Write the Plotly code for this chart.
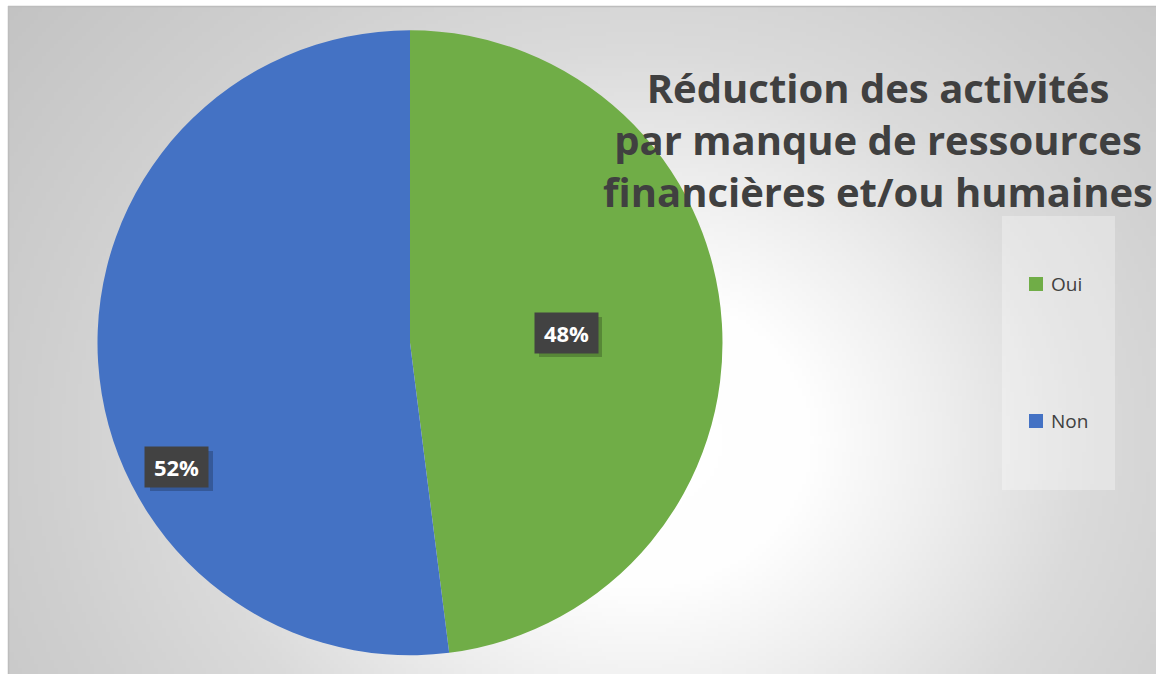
import base64
import math
import struct
import zlib

import plotly.graph_objects as go

# ---------------- data ----------------
LABELS = ["Oui", "Non"]
VALUES = [48, 52]
COLORS = ["#70AD47", "#4472C4"]
TITLE_LINES = ["Réduction des activités", "par manque de ressources", "financières et/ou humaines"]

W, H = 1156, 674
# chart-area box (page pixels)
X0, Y0, X1, Y1 = 8, 6, W, H

# ---------------- background gradient (style only) ----------------
def make_png(w, h, pix):
    raw = b"".join(b"\x00" + bytes(row) for row in pix)
    def chunk(t, d):
        return struct.pack(">I", len(d)) + t + d + struct.pack(">I", zlib.crc32(t + d) & 0xFFFFFFFF)
    return (b"\x89PNG\r\n\x1a\n" + chunk(b"IHDR", struct.pack(">IIBBBBB", w, h, 8, 0, 0, 0, 0))
            + chunk(b"IDAT", zlib.compress(raw, 9)) + chunk(b"IEND", b""))

stops = [(0, 255), (170, 254), (300, 238), (450, 218), (600, 207), (820, 194)]
def shade(d):
    for (d0, v0), (d1, v1) in zip(stops, stops[1:]):
        if d <= d1:
            return int(round(v0 + (v1 - v0) * (d - d0) / (d1 - d0)))
    return stops[-1][1]

GW, GH = 287, 167
cx, cy = 640, 440
pix = []
for j in range(GH):
    py = Y0 + (j + 0.5) * (Y1 - Y0) / GH
    row = []
    for i in range(GW):
        px = X0 + (i + 0.5) * (X1 - X0) / GW
        d = math.hypot(px - cx, (py - cy) * 1.15)
        row.append(shade(d))
    pix.append(row)
bg_uri = "data:image/png;base64," + base64.b64encode(make_png(GW, GH, pix)).decode()

def fx(px):
    return px / W

def fy(py):
    return 1 - py / H

# ---------------- figure ----------------
fig = go.Figure()
fig.add_trace(go.Pie(
    labels=LABELS, values=VALUES, sort=False, direction="clockwise", rotation=0,
    marker=dict(colors=COLORS, line=dict(width=0)),
    textinfo="none", showlegend=False,
    domain=dict(x=[fx(97.5), fx(722.5)], y=[fy(655.5), fy(30)]),
))

shapes = []
annotations = []

# chart border (top / left)
shapes.append(dict(type="line", xref="paper", yref="paper", x0=fx(X0), x1=1, y0=fy(Y0 + 0.5), y1=fy(Y0 + 0.5),
                   line=dict(color="#BDBDBD", width=1.5), layer="above"))
shapes.append(dict(type="line", xref="paper", yref="paper", x0=fx(X0 + 0.5), x1=fx(X0 + 0.5), y0=0, y1=fy(Y0),
                   line=dict(color="#BDBDBD", width=1.5), layer="above"))

# data labels (text from values)
total = sum(VALUES)
LABEL_POS = [(566, 333), (177, 467)]
for v, (lx, ly) in zip(VALUES, LABEL_POS):
    pct = f"{round(100 * v / total)}%"
    shapes.append(dict(type="rect", xref="paper", yref="paper",
                       x0=fx(lx - 31 + 4), x1=fx(lx + 32 + 4), y0=fy(ly + 20 + 4), y1=fy(ly - 20 + 4),
                       line=dict(width=0), fillcolor="rgba(0,0,0,0.22)", layer="above"))
    annotations.append(dict(x=fx(lx), y=fy(ly), xref="paper", yref="paper", text=f"<b>{pct}</b>",
                            showarrow=False, width=63, height=40, bgcolor="#424242",
                            xanchor="center", yanchor="middle",
                            borderpad=0, align="center", valign="middle",
                            font=dict(family="Open Sans", size=22, color="white")))

# legend (manual, to reproduce spacing)
shapes.append(dict(type="rect", xref="paper", yref="paper", x0=fx(1002), x1=fx(1115), y0=fy(490), y1=fy(216),
                   line=dict(width=0), fillcolor="rgba(255,255,255,0.3)", layer="below"))
LEG_Y = [284, 421]
for lab, col, ly in zip(LABELS, COLORS, LEG_Y):
    shapes.append(dict(type="rect", xref="paper", yref="paper", x0=fx(1029), x1=fx(1043),
                       y0=fy(ly + 7), y1=fy(ly - 7), line=dict(width=0), fillcolor=col, layer="above"))
    annotations.append(dict(x=fx(1049), y=fy(ly), xref="paper", yref="paper", text=lab, showarrow=False,
                            xanchor="left", yanchor="middle",
                            font=dict(family="Open Sans", size=19, color="#404040")))

fig.update_layout(
    width=W, height=H,
    margin=dict(l=0, r=0, t=0, b=0),
    paper_bgcolor="white",
    plot_bgcolor="white",
    title=dict(text="<b>" + "<br>".join(TITLE_LINES) + "</b>",
               x=fx(878), xanchor="center", y=fy(95 + 8), yanchor="middle",
               font=dict(family="Open Sans", size=40, color="#404040")),
    images=[dict(source=bg_uri, xref="paper", yref="paper", x=fx(X0), y=fy(Y0),
                 sizex=fx(X1) - fx(X0), sizey=fy(Y0) - fy(Y1), xanchor="left", yanchor="top",
                 sizing="stretch", layer="below")],
    shapes=shapes,
    annotations=annotations,
)

fig.write_html(
    "out.html",
    config={"displayModeBar": False},
    post_script="document.body.style.margin='0';document.body.style.overflow='hidden';"
                "document.documentElement.style.overflow='hidden';",
)
